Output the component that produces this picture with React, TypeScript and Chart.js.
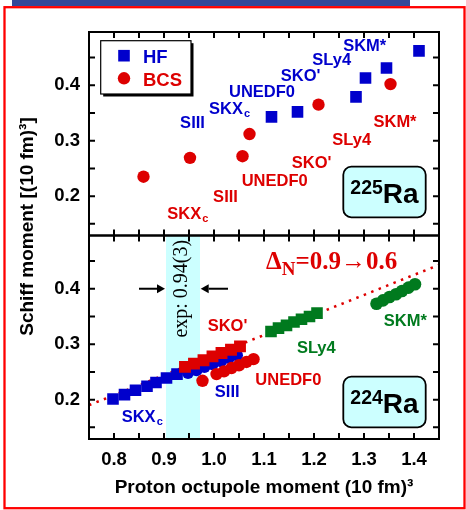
import React, { useEffect, useRef } from 'react';
import { Chart, registerables } from 'chart.js';

Chart.register(...registerables);

// ---------------- data ----------------
const xMajorTicks = [0.8, 0.9, 1.0, 1.1, 1.2, 1.3, 1.4];
const xMinorTicks = [0.85, 0.95, 1.05, 1.15, 1.25, 1.35];
const yMajorTicks = [0.2, 0.3, 0.4];
const yMinorTicks = [0.15, 0.25, 0.35, 0.45];

// 225Ra panel
const hfX = [1.115, 1.167, 1.284, 1.303, 1.345, 1.41];
const hfY = [0.343, 0.352, 0.379, 0.413, 0.431, 0.462];
const bcsX = [0.859, 0.952, 1.057, 1.071, 1.209, 1.353];
const bcsY = [0.235, 0.269, 0.272, 0.312, 0.365, 0.402];

// 224Ra panel (Delta_N from 0.9 to 0.6)
const skxcX = [0.798, 0.821, 0.843, 0.866, 0.884, 0.905, 0.926];
const skxcY = [0.201, 0.209, 0.217, 0.224, 0.231, 0.239, 0.246];
const siiiX = [0.948, 0.965, 0.981, 0.997, 1.014, 1.03, 1.046];
const siiiY = [0.248, 0.253, 0.259, 0.264, 0.269, 0.275, 0.28];
const skoX = [0.942, 0.96, 0.979, 0.997, 1.015, 1.034, 1.052];
const skoY = [0.259, 0.265, 0.271, 0.278, 0.284, 0.29, 0.296];
const unedfX = [0.977, 1.005, 1.02, 1.035, 1.05, 1.065, 1.079];
const unedfY = [0.234, 0.246, 0.251, 0.257, 0.262, 0.268, 0.273];
const sly4X = [1.114, 1.129, 1.145, 1.16, 1.175, 1.191, 1.206];
const sly4Y = [0.323, 0.329, 0.334, 0.34, 0.345, 0.35, 0.356];
const skmX = [1.325, 1.338, 1.351, 1.364, 1.376, 1.389, 1.402];
const skmY = [0.373, 0.379, 0.385, 0.39, 0.396, 0.402, 0.408];

const trendX = [0.75, 1.45];
const trendY = [0.19, 0.443];
const expBand = [0.904, 0.972];
const expValueY = 0.4;

// ---------------- styles ----------------
const BLUE = '#0000cc';
const RED = '#dd0000';
const GREEN = '#007a1e';
const CYAN = '#ccffff';
const SANS = '"Liberation Sans", Arial, Helvetica, sans-serif';
const SERIF = '"Liberation Serif", "Times New Roman", serif';

type Lbl = { text: string; sub?: string; x: number; y: number; color: string; align: 'center' | 'left' };

const topLabels: Lbl[] = [
  { text: 'SIII', x: 0.957, y: 0.334, color: BLUE, align: 'center' },
  { text: 'SKX', sub: 'c', x: 0.99, y: 0.3586, color: BLUE, align: 'left' },
  { text: 'UNEDF0', x: 1.096, y: 0.389, color: BLUE, align: 'center' },
  { text: "SKO'", x: 1.1734, y: 0.418, color: BLUE, align: 'center' },
  { text: 'SLy4', x: 1.2354, y: 0.4467, color: BLUE, align: 'center' },
  { text: 'SKM*', x: 1.3014, y: 0.473, color: BLUE, align: 'center' },
  { text: 'SKX', sub: 'c', x: 0.9066, y: 0.1703, color: RED, align: 'left' },
  { text: 'SIII', x: 1.023, y: 0.2004, color: RED, align: 'center' },
  { text: 'UNEDF0', x: 1.1214, y: 0.2285, color: RED, align: 'center' },
  { text: "SKO'", x: 1.1954, y: 0.2618, color: RED, align: 'center' },
  { text: 'SLy4', x: 1.2754, y: 0.3033, color: RED, align: 'center' },
  { text: 'SKM*', x: 1.362, y: 0.3355, color: RED, align: 'center' },
];
const botLabels: Lbl[] = [
  { text: 'SKX', sub: 'c', x: 0.8154, y: 0.1698, color: BLUE, align: 'left' },
  { text: 'SIII', x: 1.0264, y: 0.216, color: BLUE, align: 'center' },
  { text: "SKO'", x: 1.027, y: 0.3345, color: RED, align: 'center' },
  { text: 'UNEDF0', x: 1.1486, y: 0.2375, color: RED, align: 'center' },
  { text: 'SLy4', x: 1.2046, y: 0.2955, color: GREEN, align: 'center' },
  { text: 'SKM*', x: 1.3826, y: 0.3434, color: GREEN, align: 'center' },
];

const pts = (xs: number[], ys: number[]) => xs.map((x, i) => ({ x, y: ys[i] }));

function drawLabel(ctx: CanvasRenderingContext2D, l: Lbl, px: number, py: number) {
  const size = 16.5;
  const subSize = 11;
  ctx.font = `bold ${size}px ${SANS}`;
  const w = ctx.measureText(l.text).width;
  let sw = 0;
  if (l.sub) {
    ctx.font = `bold ${subSize}px ${SANS}`;
    sw = ctx.measureText(l.sub).width + 1;
  }
  const base = py + (size * 0.716) / 2;
  const x0 = l.align === 'center' ? px - (w + sw) / 2 : px;
  ctx.fillStyle = l.color;
  ctx.textAlign = 'left';
  ctx.textBaseline = 'alphabetic';
  ctx.font = `bold ${size}px ${SANS}`;
  ctx.fillText(l.text, x0, base);
  if (l.sub) {
    ctx.font = `bold ${subSize}px ${SANS}`;
    ctx.fillText(l.sub, x0 + w + 1, base + 3);
  }
}

function drawFrame(ctx: CanvasRenderingContext2D, xs: any, ys: any) {
  const L = xs.left, R = xs.right, T = ys.top, B = ys.bottom;
  ctx.strokeStyle = '#000';
  ctx.lineWidth = 2;
  ctx.strokeRect(L, T, R - L, B - T);
  ctx.beginPath();
  for (const v of [...xMajorTicks, ...xMinorTicks]) {
    const p = xs.getPixelForValue(v);
    ctx.moveTo(p, B); ctx.lineTo(p, B - 6);
    ctx.moveTo(p, T); ctx.lineTo(p, T + 6);
  }
  for (const v of [...yMajorTicks, ...yMinorTicks]) {
    const p = ys.getPixelForValue(v);
    ctx.moveTo(L, p); ctx.lineTo(L + 6, p);
    ctx.moveTo(R, p); ctx.lineTo(R - 6, p);
  }
  ctx.stroke();
}

function roundRect(ctx: CanvasRenderingContext2D, x: number, y: number, w: number, h: number, r: number) {
  ctx.beginPath();
  ctx.moveTo(x + r, y);
  ctx.arcTo(x + w, y, x + w, y + h, r);
  ctx.arcTo(x + w, y + h, x, y + h, r);
  ctx.arcTo(x, y + h, x, y, r);
  ctx.arcTo(x, y, x + w, y, r);
  ctx.closePath();
}

function raBox(ctx: CanvasRenderingContext2D, xs: any, ys: any, mass: string, rightGap: number, bottomGap: number) {
  const w = 82.4, h = 50.6;
  const x = xs.right - rightGap - w;
  const y = ys.bottom - bottomGap - h;
  roundRect(ctx, x, y, w, h, 8);
  ctx.fillStyle = CYAN;
  ctx.fill();
  ctx.lineWidth = 1.8;
  ctx.strokeStyle = '#000';
  ctx.stroke();
  ctx.fillStyle = '#000';
  ctx.textBaseline = 'alphabetic';
  ctx.textAlign = 'left';
  ctx.font = `bold 19.5px ${SANS}`;
  const wm = ctx.measureText(mass).width;
  ctx.font = `bold 28px ${SANS}`;
  const wr = ctx.measureText('Ra').width;
  const cx = x + w / 2, cy = y + h / 2;
  const x0 = cx - (wm + wr) / 2;
  const base = cy + 10.5;
  ctx.font = `bold 19.5px ${SANS}`;
  ctx.fillText(mass, x0, base - 9);
  ctx.font = `bold 28px ${SANS}`;
  ctx.fillText('Ra', x0 + wm, base);
}

function arrow(ctx: CanvasRenderingContext2D, x1: number, x2: number, y: number) {
  const dir = Math.sign(x2 - x1);
  const hl = 8, hw = 4.5;
  ctx.strokeStyle = '#000';
  ctx.fillStyle = '#000';
  ctx.lineWidth = 2;
  ctx.beginPath();
  ctx.moveTo(x1, y);
  ctx.lineTo(x2 - dir * hl, y);
  ctx.stroke();
  ctx.beginPath();
  ctx.moveTo(x2, y);
  ctx.lineTo(x2 - dir * hl, y - hw);
  ctx.lineTo(x2 - dir * hl, y + hw);
  ctx.closePath();
  ctx.fill();
}

const decor = {
  id: 'decor',
  beforeDraw(chart: any) {
    const ctx: CanvasRenderingContext2D = chart.ctx;
    ctx.save();
    ctx.fillStyle = '#ffffff';
    ctx.fillRect(0, 0, chart.width, chart.height);
    ctx.fillStyle = '#34489a';
    ctx.fillRect(12, 0, 398, 6);
    ctx.strokeStyle = '#ff0000';
    ctx.lineWidth = 2.3;
    ctx.strokeRect(4.5, 7.2, 460, 501);
    ctx.restore();
  },
  beforeDatasetsDraw(chart: any) {
    const ctx: CanvasRenderingContext2D = chart.ctx;
    const xs = chart.scales.x, yb = chart.scales.yBot;
    const a = xs.getPixelForValue(expBand[0]);
    const b = xs.getPixelForValue(expBand[1]);
    ctx.save();
    ctx.fillStyle = CYAN;
    ctx.fillRect(a, yb.top, b - a, yb.bottom - yb.top);
    ctx.restore();
  },
  afterDatasetsDraw(chart: any) {
    const ctx: CanvasRenderingContext2D = chart.ctx;
    const xs = chart.scales.x, yt = chart.scales.yTop, yb = chart.scales.yBot;
    ctx.save();
    drawFrame(ctx, xs, yt);
    drawFrame(ctx, xs, yb);

    // legend box
    const lx = xs.left + 11.7, ly = yt.top + 8.7, lw = 90.3, lh = 53.3;
    ctx.fillStyle = '#000';
    ctx.fillRect(lx + 2.5, ly + 2.5, lw, lh);
    ctx.fillStyle = '#fff';
    ctx.fillRect(lx, ly, lw, lh);
    ctx.lineWidth = 1.2;
    ctx.strokeStyle = '#000';
    ctx.strokeRect(lx, ly, lw, lh);
    ctx.fillStyle = BLUE;
    ctx.fillRect(lx + 23.3 - 5.8, ly + 15 - 5.8, 11.6, 11.6);
    ctx.fillStyle = RED;
    ctx.beginPath();
    ctx.arc(lx + 23.3, ly + 37.6, 6.2, 0, Math.PI * 2);
    ctx.fill();
    ctx.font = `bold 18.5px ${SANS}`;
    ctx.textAlign = 'left';
    ctx.textBaseline = 'alphabetic';
    ctx.fillStyle = BLUE;
    ctx.fillText('HF', lx + 42.3, ly + 22.6);
    ctx.fillStyle = RED;
    ctx.fillText('BCS', lx + 42.3, ly + 45.3);

    for (const l of topLabels) drawLabel(ctx, l, xs.getPixelForValue(l.x), yt.getPixelForValue(l.y));
    for (const l of botLabels) drawLabel(ctx, l, xs.getPixelForValue(l.x), yb.getPixelForValue(l.y));

    raBox(ctx, xs, yt, '225', 13.3, 18.2);
    raBox(ctx, xs, yb, '224', 13.3, 11.7);

    // experimental arrows + text
    const a = xs.getPixelForValue(expBand[0]);
    const b = xs.getPixelForValue(expBand[1]);
    const ay = yb.getPixelForValue(expValueY);
    arrow(ctx, a - 27, a - 1, ay);
    arrow(ctx, b + 28, b + 0.7, ay);
    ctx.save();
    ctx.translate((a + b) / 2 + 4.3, ay);
    ctx.rotate(-Math.PI / 2);
    ctx.fillStyle = '#000';
    ctx.font = `20px ${SERIF}`;
    ctx.textAlign = 'center';
    ctx.textBaseline = 'alphabetic';
    ctx.fillText('exp: 0.94(3)', 0, 0);
    ctx.restore();

    // Delta_N annotation
    const dx = xs.getPixelForValue(1.104);
    const dy = yb.getPixelForValue(0.436);
    ctx.fillStyle = RED;
    ctx.textAlign = 'left';
    ctx.font = `bold 25px ${SERIF}`;
    ctx.fillText('Δ', dx, dy);
    let cx = dx + ctx.measureText('Δ').width;
    ctx.font = `bold 19px ${SERIF}`;
    ctx.fillText('N', cx, dy + 6.4);
    cx += ctx.measureText('N').width;
    ctx.font = `bold 25px ${SERIF}`;
    ctx.fillText('=0.9→0.6', cx, dy);

    // y-axis title spanning both panels
    ctx.save();
    ctx.translate(33, 226.5);
    ctx.rotate(-Math.PI / 2);
    ctx.fillStyle = '#000';
    ctx.font = `bold 19px ${SANS}`;
    ctx.textAlign = 'center';
    ctx.fillText('Schiff moment [(10 fm)³]', 0, 0);
    ctx.restore();

    ctx.restore();
  },
};

const tickFont = { family: SANS, size: 18.5, weight: 'bold' as const };

function yScale(extra: any) {
  return {
    type: 'linear',
    position: 'left',
    stack: 'panels',
    stackWeight: 1,
    min: 0.129,
    max: 0.496,
    afterBuildTicks: (s: any) => { s.ticks = yMajorTicks.map((v) => ({ value: v })); },
    afterFit: (s: any) => { s.width = 89; },
    grid: { display: false, drawTicks: false },
    border: { display: false },
    ticks: { padding: 9, font: tickFont, color: '#000', callback: (v: any) => Number(v).toFixed(1) },
    ...extra,
  };
}

export default function App() {
  const ref = useRef<HTMLCanvasElement>(null);
  useEffect(() => {
    if (!ref.current) return;
    const chart = new Chart(ref.current, {
      type: 'scatter',
      data: {
        datasets: [
          { type: 'line', label: 'trend', data: pts(trendX, trendY), yAxisID: 'yBot', borderColor: RED, borderWidth: 2.5, borderDash: [2.5, 5.5], pointRadius: 0, fill: false, order: 10 } as any,
          { label: 'SKXc', data: pts(skxcX, skxcY), yAxisID: 'yBot', pointStyle: 'rect', pointRadius: 8.2, backgroundColor: BLUE, borderWidth: 0, order: 9 },
          { label: 'SIII', data: pts(siiiX, siiiY), yAxisID: 'yBot', pointStyle: 'circle', pointRadius: 6, backgroundColor: BLUE, borderWidth: 0, order: 8 },
          { label: "SKO'", data: pts(skoX, skoY), yAxisID: 'yBot', pointStyle: 'rect', pointRadius: 8.4, backgroundColor: RED, borderWidth: 0, order: 7 },
          { label: 'UNEDF0', data: pts(unedfX, unedfY), yAxisID: 'yBot', pointStyle: 'circle', pointRadius: 6.2, backgroundColor: RED, borderWidth: 0, order: 6 },
          { label: 'SLy4', data: pts(sly4X, sly4Y), yAxisID: 'yBot', pointStyle: 'rect', pointRadius: 8.2, backgroundColor: GREEN, borderWidth: 0, order: 5 },
          { label: 'SKM*', data: pts(skmX, skmY), yAxisID: 'yBot', pointStyle: 'circle', pointRadius: 6.3, backgroundColor: GREEN, borderWidth: 0, order: 4 },
          { label: 'HF', data: pts(hfX, hfY), yAxisID: 'yTop', pointStyle: 'rect', pointRadius: 8.2, backgroundColor: BLUE, borderWidth: 0, order: 3 },
          { label: 'BCS', data: pts(bcsX, bcsY), yAxisID: 'yTop', pointStyle: 'circle', pointRadius: 6.2, backgroundColor: RED, borderWidth: 0, order: 2 },
        ],
      },
      options: {
        responsive: false,
        animation: false,
        devicePixelRatio: 1,
        layout: { padding: { left: 0, right: 27, top: 32, bottom: 0 } },
        plugins: { legend: { display: false }, tooltip: { enabled: false } },
        events: [],
        scales: {
          x: {
            type: 'linear',
            position: 'bottom',
            min: 0.75,
            max: 1.45,
            afterBuildTicks: (s: any) => { s.ticks = xMajorTicks.map((v) => ({ value: v })); },
            afterFit: (s: any) => { s.height = 71; },
            grid: { display: false, drawTicks: false },
            border: { display: false },
            ticks: { padding: 10, font: tickFont, color: '#000', maxRotation: 0, autoSkip: false, callback: (v: any) => Number(v).toFixed(1) },
            title: { display: true, text: 'Proton octupole moment (10 fm)³', color: '#000', font: { family: SANS, size: 19, weight: 'bold' }, padding: { top: 0, bottom: 10.9 } },
          },
          yBot: yScale({}),
          yTop: yScale({}),
        } as any,
      },
      plugins: [decor],
    } as any);
    return () => chart.destroy();
  }, []);
  return (
    <div style={{ position: 'absolute', left: 0, top: 0, width: 466, height: 510 }}>
      <canvas ref={ref} width={466} height={510} style={{ width: 466, height: 510, display: 'block' }} />
    </div>
  );
}
